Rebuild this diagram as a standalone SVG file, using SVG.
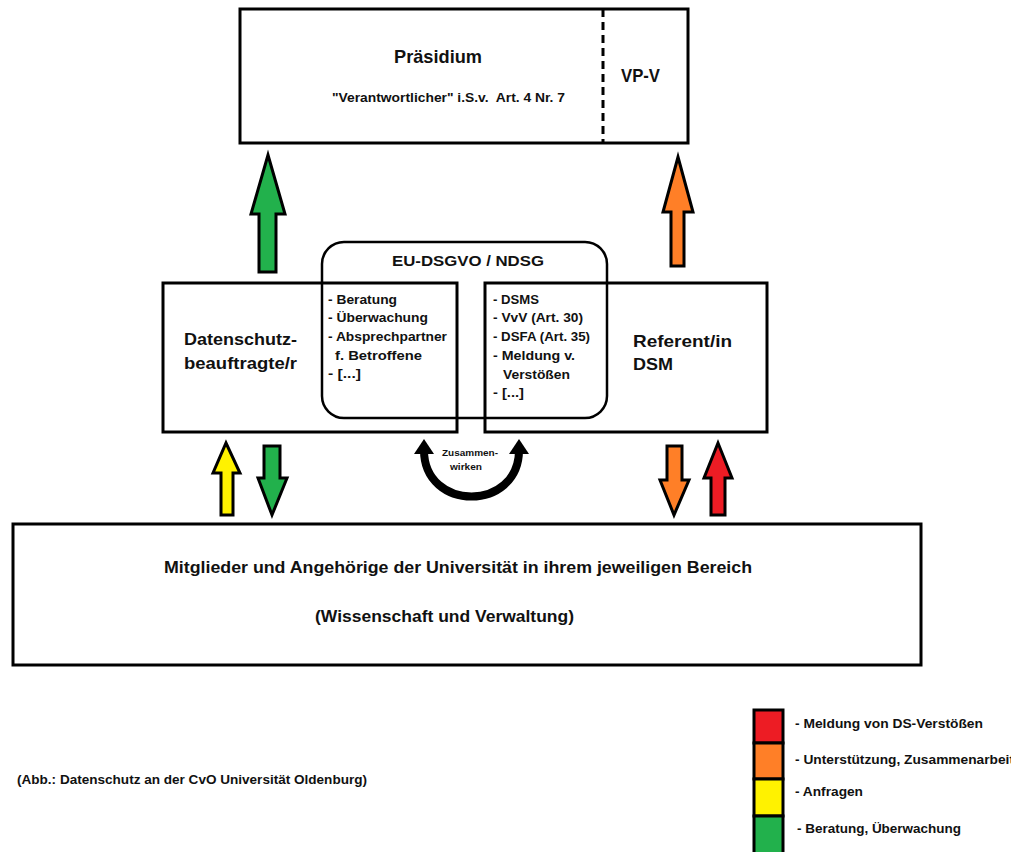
<svg xmlns="http://www.w3.org/2000/svg" width="1011" height="852" viewBox="0 0 1011 852">
<style>
text{font-family:"Liberation Sans",Arial,sans-serif;font-weight:bold;fill:#111}
.box{fill:none;stroke:#000;stroke-width:3}
.arr{stroke:#000;stroke-width:3;stroke-linejoin:miter}
.g{fill:#22b14c}.o{fill:#ff7f27}.y{fill:#fff200}.r{fill:#ed1c24}
.lg{stroke:#000;stroke-width:3}
</style>
<rect width="1011" height="852" fill="#fff"/>
<g id="praesidium">
<rect class="box" x="240" y="9" width="448" height="134"/>
<line x1="603" y1="9" x2="603" y2="143" stroke="#000" stroke-width="3" stroke-dasharray="8 5"/>
<text x="394" y="63" font-size="18.5" textLength="88" lengthAdjust="spacingAndGlyphs">Präsidium</text>
<text x="332" y="102" font-size="12.5" textLength="233" lengthAdjust="spacingAndGlyphs" xml:space="preserve">"Verantwortlicher" i.S.v.  Art. 4 Nr. 7</text>
<text x="621" y="82" font-size="17.5" textLength="39" lengthAdjust="spacingAndGlyphs">VP-V</text>
</g>
<g id="dsgvo">
<rect x="322" y="242" width="285" height="176" rx="22" ry="22" fill="none" stroke="#000" stroke-width="2.5"/>
<text x="392" y="266" font-size="15.5" textLength="152" lengthAdjust="spacingAndGlyphs">EU-DSGVO / NDSG</text>
</g>
<g id="dsb">
<rect class="box" x="163" y="283" width="294" height="149"/>
<text x="184" y="345" font-size="16.5" textLength="113" lengthAdjust="spacingAndGlyphs">Datenschutz-</text>
<text x="184" y="369" font-size="16.5" textLength="113" lengthAdjust="spacingAndGlyphs">beauftragte/r</text>
<g font-size="13">
<text x="328" y="304" textLength="69" lengthAdjust="spacingAndGlyphs">- Beratung</text>
<text x="328" y="322" textLength="100" lengthAdjust="spacingAndGlyphs">- Überwachung</text>
<text x="328" y="341" textLength="119" lengthAdjust="spacingAndGlyphs">- Absprechpartner</text>
<text x="335" y="360" textLength="87" lengthAdjust="spacingAndGlyphs">f. Betroffene</text>
<text x="328" y="378" textLength="33" lengthAdjust="spacingAndGlyphs">- [...]</text>
</g>
</g>
<g id="referent">
<rect class="box" x="485" y="283" width="282" height="149"/>
<text x="633" y="347" font-size="16.5" textLength="99" lengthAdjust="spacingAndGlyphs">Referent/in</text>
<text x="633" y="370" font-size="16.5" textLength="40" lengthAdjust="spacingAndGlyphs">DSM</text>
<g font-size="13">
<text x="493" y="304" textLength="46" lengthAdjust="spacingAndGlyphs">- DSMS</text>
<text x="493" y="322" textLength="90" lengthAdjust="spacingAndGlyphs">- VvV (Art. 30)</text>
<text x="493" y="341" textLength="97" lengthAdjust="spacingAndGlyphs">- DSFA (Art. 35)</text>
<text x="493" y="360" textLength="82" lengthAdjust="spacingAndGlyphs">- Meldung v.</text>
<text x="503" y="379" textLength="67" lengthAdjust="spacingAndGlyphs">Verstößen</text>
<text x="493" y="397" textLength="31" lengthAdjust="spacingAndGlyphs">- [...]</text>
</g>
</g>
<g id="mitglieder">
<rect class="box" x="13" y="524" width="908" height="141"/>
<text x="164" y="573" font-size="17" textLength="588" lengthAdjust="spacingAndGlyphs">Mitglieder und Angehörige der Universität in ihrem jeweiligen Bereich</text>
<text x="315" y="622" font-size="17" textLength="259" lengthAdjust="spacingAndGlyphs">(Wissenschaft und Verwaltung)</text>
</g>
<g id="connectors">
<polygon class="arr g" points="268,155 285,214 276,214 276,272 259,272 259,214 251,214"/>
<polygon class="arr o" points="678,157 693,212 684,212 684,266 671,266 671,212 663,212"/>
<polygon class="arr y" points="226,443 240,473 233,473 233,515 221,515 221,473 213,473"/>
<polygon class="arr g" points="264,446 280,446 280,478 287,478 272,515 258,478 264,478"/>
<polygon class="arr o" points="667,446 682,446 682,480 689,480 674,515 660,480 667,480"/>
<polygon class="arr r" points="718,443 732,478 725,478 725,515 711,515 711,478 704,478"/>
<g id="zusammenwirken">
<path d="M424,450 C424,512 519,512 519,450" fill="none" stroke="#000" stroke-width="8"/>
<polygon points="424,439 434,454 414,454" fill="#000"/>
<polygon points="519,439 529,454 509,454" fill="#000"/>
<text x="442" y="456" font-size="8.5" textLength="56" lengthAdjust="spacingAndGlyphs">Zusammen-</text>
<text x="450" y="470" font-size="8.5" textLength="32" lengthAdjust="spacingAndGlyphs">wirken</text>
</g>
</g>
<g id="legend">
<rect class="lg r" x="754" y="710" width="29" height="33"/>
<rect class="lg o" x="754" y="743" width="29" height="36"/>
<rect class="lg y" x="754" y="779" width="29" height="37"/>
<rect class="lg g" x="754" y="816" width="29" height="40"/>
<g font-size="12.5">
<text x="795" y="728" textLength="188" lengthAdjust="spacingAndGlyphs">- Meldung von DS-Verstößen</text>
<text x="795" y="764" textLength="219" lengthAdjust="spacingAndGlyphs">- Unterstützung, Zusammenarbeit</text>
<text x="795" y="796" textLength="68" lengthAdjust="spacingAndGlyphs">- Anfragen</text>
<text x="797" y="833" textLength="164" lengthAdjust="spacingAndGlyphs">- Beratung, Überwachung</text>
</g>
</g>
<g id="caption">
<text x="17" y="784" font-size="12" textLength="350" lengthAdjust="spacingAndGlyphs">(Abb.: Datenschutz an der CvO Universität Oldenburg)</text>
</g>
</svg>
